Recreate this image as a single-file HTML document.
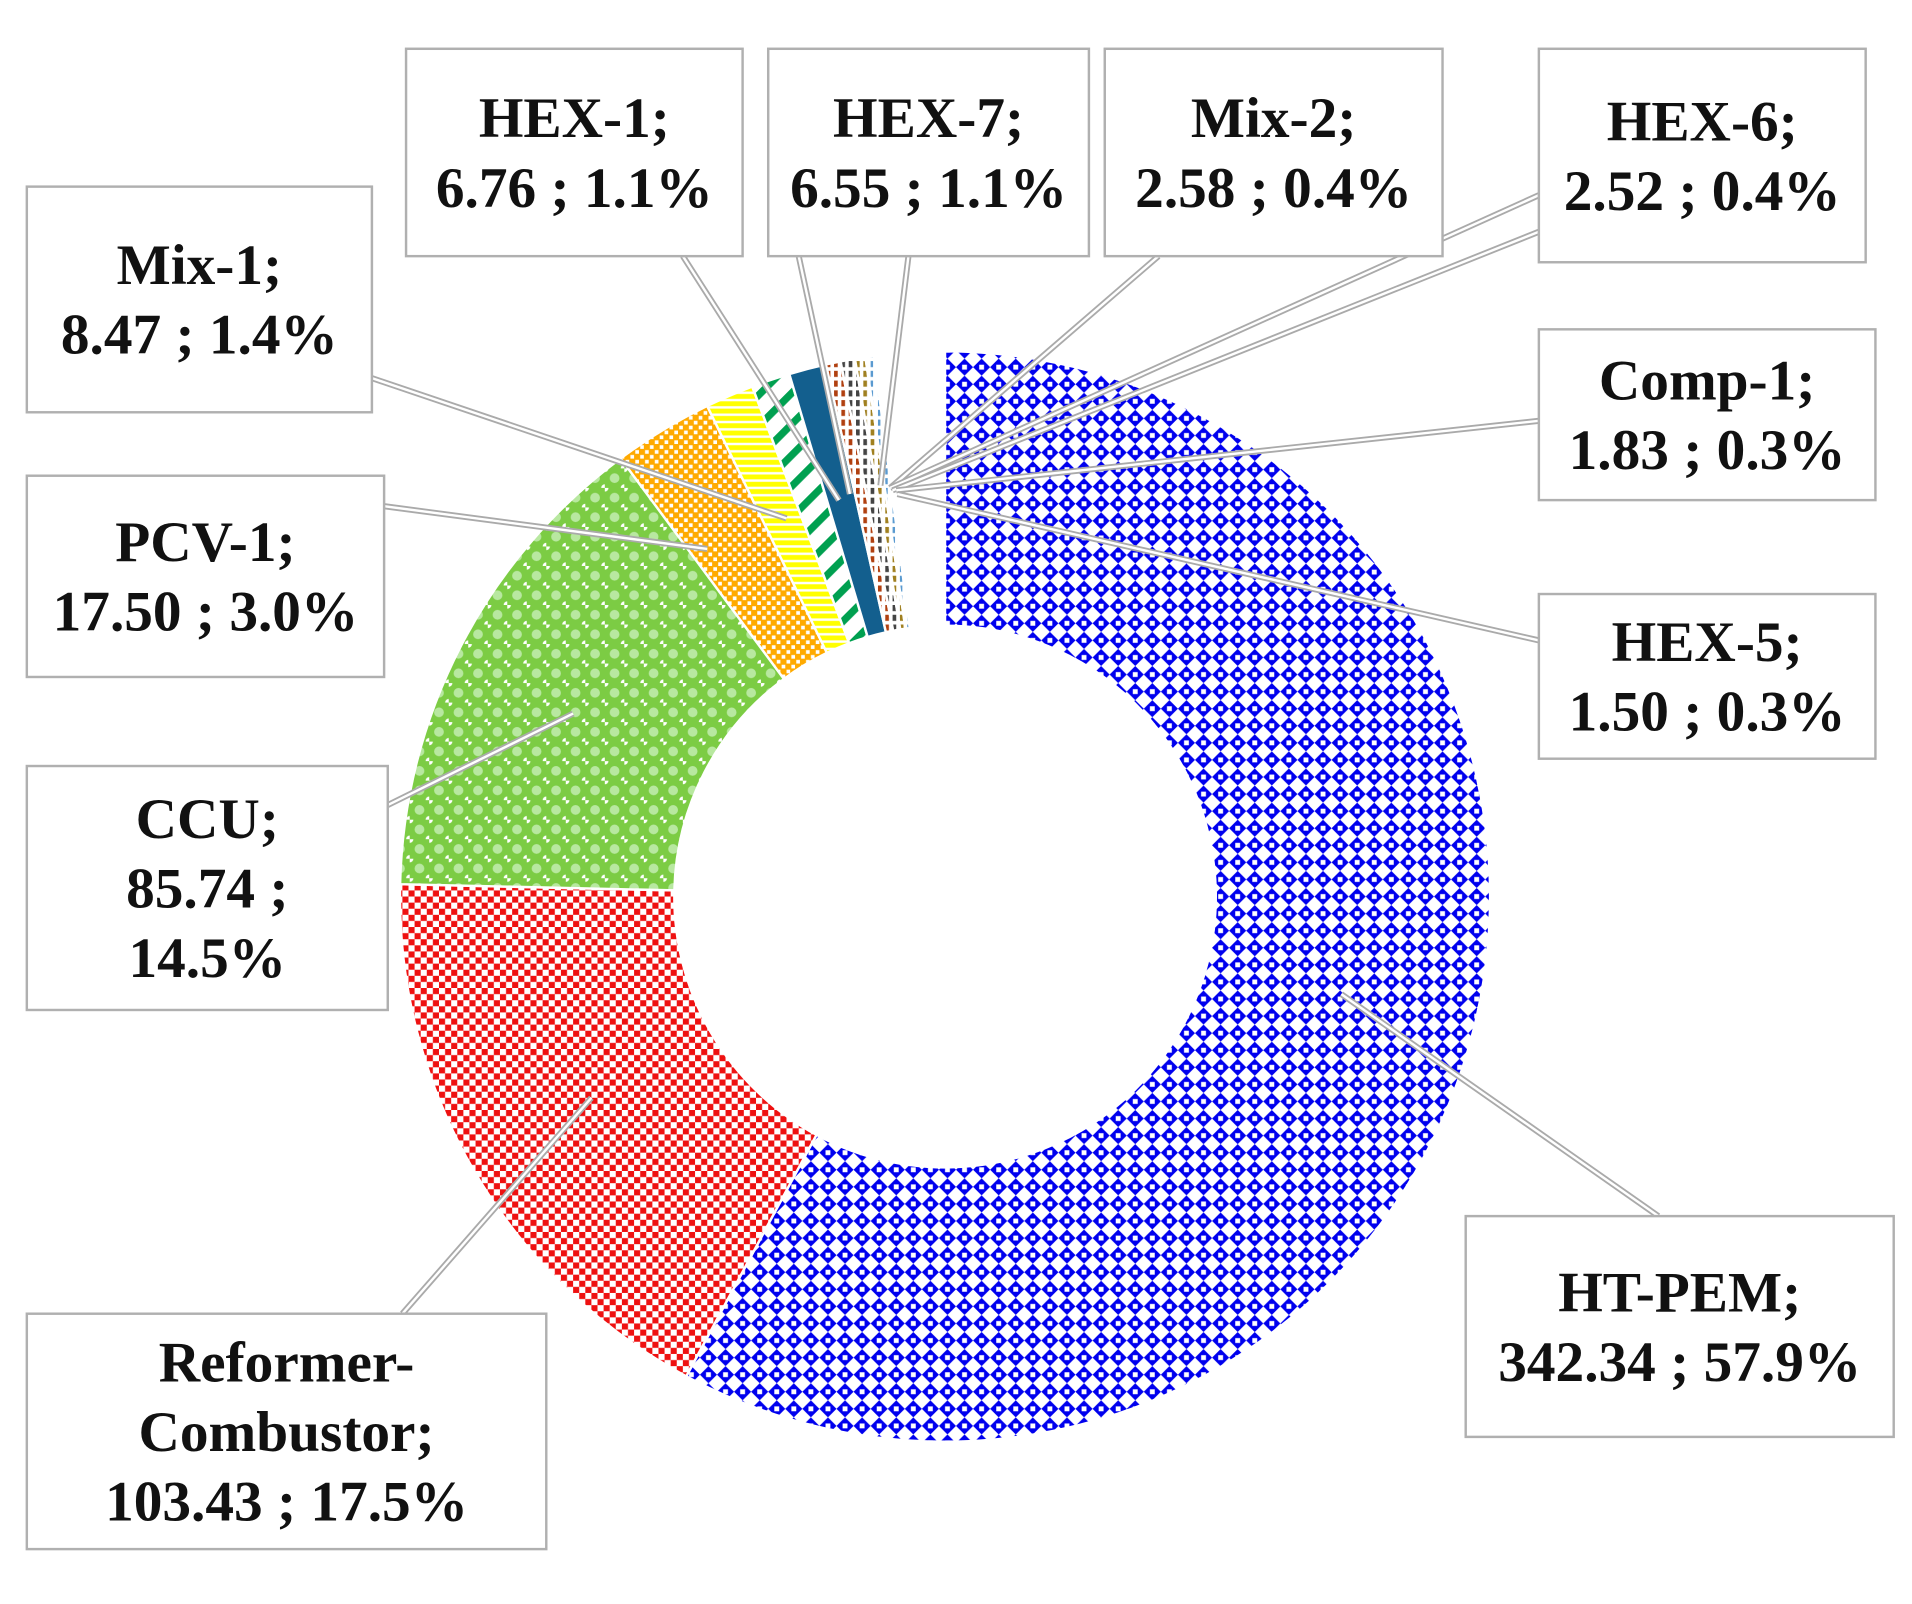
<!DOCTYPE html>
<html><head><meta charset="utf-8"><style>
html,body{margin:0;padding:0;background:#fff;}
svg{display:block;}
text{font-family:"Liberation Serif",serif;font-weight:bold;font-size:47px;fill:#111;}
</style></head><body>
<svg id="chart" width="1912" height="1604" viewBox="0 0 1568 1315" preserveAspectRatio="none" xmlns="http://www.w3.org/2000/svg">
<defs>
<pattern id="p0" width="14" height="14" patternUnits="userSpaceOnUse"><rect width="14" height="14" fill="#fff"/><polygon points="7,0 14,7 7,14 0,7" fill="#0000ee"/><rect x="5" y="5" width="4" height="4" fill="#fff"/></pattern>
<pattern id="p1" width="10" height="10" patternUnits="userSpaceOnUse"><rect width="10" height="10" fill="#ee1111"/><rect width="5" height="5" fill="#fff"/><rect x="5" y="5" width="5" height="5" fill="#fff"/></pattern>
<pattern id="p2" width="16" height="16" patternUnits="userSpaceOnUse"><rect width="16" height="16" fill="#7ccc44"/><circle cx="8" cy="8" r="4" fill="#b8e8a0"/><circle cx="0" cy="0" r="3" fill="#fff"/><circle cx="16" cy="16" r="3" fill="#fff"/></pattern>
<pattern id="p3" width="8" height="8" patternUnits="userSpaceOnUse"><rect width="8" height="8" fill="#ffaa00"/><rect x="1" y="1" width="3" height="3" fill="#fff"/><rect x="5" y="5" width="3" height="3" fill="#fff"/></pattern>
<pattern id="p4" width="6" height="6" patternUnits="userSpaceOnUse"><rect width="6" height="6" fill="#ffff00"/><rect y="3" width="6" height="2" fill="#fff"/></pattern>
<pattern id="p5" width="18" height="18" patternUnits="userSpaceOnUse" patternTransform="rotate(45)"><rect width="18" height="18" fill="#fff"/><rect width="6" height="18" fill="#00a050"/></pattern>
<pattern id="p7" width="6" height="8" patternUnits="userSpaceOnUse"><rect width="6" height="8" fill="#fff"/><rect width="3" height="5" fill="#b04010"/></pattern>
<pattern id="p8" width="6" height="8" patternUnits="userSpaceOnUse"><rect width="6" height="8" fill="#fff"/><rect width="3" height="5" fill="#444"/></pattern>
<pattern id="p9" width="6" height="8" patternUnits="userSpaceOnUse"><rect width="6" height="8" fill="#fff"/><rect width="3" height="5" fill="#a08020"/></pattern>
<pattern id="p10" width="6" height="8" patternUnits="userSpaceOnUse"><rect width="6" height="8" fill="#fff"/><rect width="2" height="5" fill="#5a9ad0"/></pattern>
</defs>
<g id="slices"></g>
<g id="leaders"></g>
<g id="labels"></g>
</svg>
<script>
const categories = ["HT-PEM","Reformer-Combustor","CCU","PCV-1","Mix-1","HEX-1","HEX-7","Mix-2","HEX-6","Comp-1","HEX-5","Other"];
const values = [342.34,103.43,85.74,17.50,8.47,6.76,6.55,2.58,2.52,1.83,1.50,12.3];
const percents = ["57.9%","17.5%","14.5%","3.0%","1.4%","1.1%","1.1%","0.4%","0.4%","0.3%","0.3%",""];
const fills = ["url(#p0)","url(#p1)","url(#p2)","url(#p3)","url(#p4)","url(#p5)","#135f8e","url(#p7)","url(#p8)","url(#p9)","url(#p10)","#fff"];
const NS="http://www.w3.org/2000/svg";
const cx=775, cy=735, R=447, r=222;
const total=values.reduce((a,b)=>a+b,0);
function pt(a,rad){return [cx+rad*Math.sin(a), cy-rad*Math.cos(a)];}
let a0=0;
const gS=document.getElementById('slices');
values.forEach((v,i)=>{
  const a1=a0+v/total*2*Math.PI;
  const large=(a1-a0)>Math.PI?1:0;
  const p1=pt(a0,R),p2=pt(a1,R),p3=pt(a1,r),p4=pt(a0,r);
  const p=document.createElementNS(NS,'path');
  p.setAttribute('d',`M${p1[0]},${p1[1]} A${R},${R} 0 ${large} 1 ${p2[0]},${p2[1]} L${p3[0]},${p3[1]} A${r},${r} 0 ${large} 0 ${p4[0]},${p4[1]} Z`);
  p.setAttribute('fill',fills[i]);
  p.setAttribute('stroke',i===11?'none':'#fff');
  p.setAttribute('stroke-width','2');
  
  
  gS.appendChild(p);
  a0=a1;
});
const leaders=[
 [560,210,688,410],[655,210,697,405],[745,210,722,398],[950,210,730,400],
 [1262,160,730,400],[1262,190,732,402],[1262,345,735,402],[1262,525,736,405],
 [305,310,645,425],[315,415,580,450],[318,660,470,585],[330,1077,485,900],[1360,997,1100,815]
];
const gL=document.getElementById('leaders');
leaders.forEach(l=>{
  [['#aaa',5],['#fff',2]].forEach(s=>{
    const ln=document.createElementNS(NS,'line');
    ln.setAttribute('x1',l[0]);ln.setAttribute('y1',l[1]);ln.setAttribute('x2',l[2]);ln.setAttribute('y2',l[3]);
    ln.setAttribute('stroke',s[0]);ln.setAttribute('stroke-width',s[1]);
    
    
    gL.appendChild(ln);
  });
});
const boxes=[
 [0,1202,997,351,181,["HT-PEM;","342.34 ; 57.9%"]],
 [1,22,1077,426,193,["Reformer-","Combustor;","103.43 ; 17.5%"]],
 [2,22,628,296,200,["CCU;","85.74 ;","14.5%"]],
 [3,22,390,293,165,["PCV-1;","17.50 ; 3.0%"]],
 [4,22,153,283,185,["Mix-1;","8.47 ; 1.4%"]],
 [5,333,40,276,170,["HEX-1;","6.76 ; 1.1%"]],
 [6,630,40,263,170,["HEX-7;","6.55 ; 1.1%"]],
 [7,906,40,277,170,["Mix-2;","2.58 ; 0.4%"]],
 [8,1262,40,268,175,["HEX-6;","2.52 ; 0.4%"]],
 [9,1262,270,276,140,["Comp-1;","1.83 ; 0.3%"]],
 [10,1262,487,276,135,["HEX-5;","1.50 ; 0.3%"]]
];
const gB=document.getElementById('labels');
boxes.forEach(b=>{
  const g=document.createElementNS(NS,'g');
  
  
  const rc=document.createElementNS(NS,'rect');
  rc.setAttribute('x',b[1]);rc.setAttribute('y',b[2]);rc.setAttribute('width',b[3]);rc.setAttribute('height',b[4]);
  rc.setAttribute('fill','#fff');rc.setAttribute('stroke','#b0b0b0');rc.setAttribute('stroke-width','2');
  g.appendChild(rc);
  const lines=b[5], lh=57;
  const y0=b[2]+b[4]/2-(lines.length-1)*lh/2+16;
  lines.forEach((t,k)=>{
    const tx=document.createElementNS(NS,'text');
    tx.setAttribute('x',b[1]+b[3]/2);tx.setAttribute('y',y0+k*lh);
    tx.setAttribute('text-anchor','middle');
    tx.textContent=t;
    g.appendChild(tx);
  });
  gB.appendChild(g);
});
</script>
</body></html>
